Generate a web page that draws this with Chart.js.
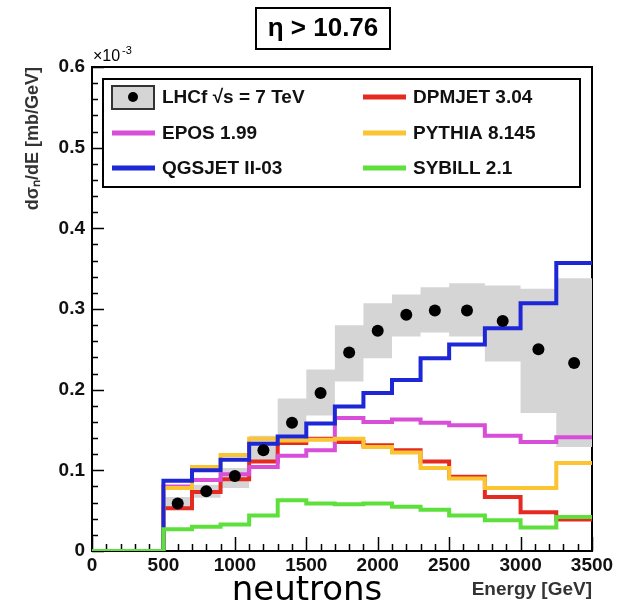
<!DOCTYPE html>
<html>
<head>
<meta charset="utf-8">
<script src="https://cdn.jsdelivr.net/npm/chart.js@4.4.0/dist/chart.umd.min.js"></script>
<style>
html, body { margin: 0; padding: 0; background: #fff; }
#wrap { width: 626px; height: 609px; }
</style>
</head>
<body>
<div id="wrap"><canvas id="chart" width="626" height="609"></canvas></div>
<script>
// energy bins (GeV), values in units of 1e-3 mb/GeV
const binEdges = [500, 700, 900, 1100, 1300, 1500, 1700, 1900, 2100, 2300, 2500, 2750, 3000, 3250, 3500];
const binCenters = [600, 800, 1000, 1200, 1400, 1600, 1800, 2000, 2200, 2400, 2625, 2875, 3125, 3375];

const lhcfData = [0.059, 0.074, 0.093, 0.125, 0.159, 0.196, 0.246, 0.273, 0.293, 0.298, 0.298, 0.285, 0.250, 0.233];
const lhcfLow  = [0.052, 0.066, 0.078, 0.112, 0.140, 0.168, 0.210, 0.239, 0.266, 0.271, 0.266, 0.235, 0.171, 0.129];
const lhcfHigh = [0.067, 0.082, 0.103, 0.143, 0.189, 0.225, 0.280, 0.307, 0.318, 0.327, 0.332, 0.329, 0.325, 0.338];

const dpmjet = [0.053, 0.073, 0.089, 0.111, 0.134, 0.139, 0.135, 0.131, 0.125, 0.111, 0.092, 0.067, 0.048, 0.039];
const epos   = [0.080, 0.088, 0.095, 0.104, 0.118, 0.125, 0.165, 0.160, 0.163, 0.159, 0.156, 0.143, 0.135, 0.141];
const pythia = [0.078, 0.104, 0.119, 0.139, 0.137, 0.138, 0.139, 0.129, 0.122, 0.103, 0.090, 0.078, 0.078, 0.109];
const qgsjet = [0.087, 0.100, 0.113, 0.133, 0.142, 0.158, 0.179, 0.196, 0.212, 0.239, 0.256, 0.276, 0.307, 0.357];
const sybill = [0.027, 0.030, 0.033, 0.044, 0.063, 0.059, 0.058, 0.059, 0.055, 0.051, 0.044, 0.038, 0.029, 0.042];

const xTicks = [0, 500, 1000, 1500, 2000, 2500, 3000, 3500];
const yTicks = [0, 0.1, 0.2, 0.3, 0.4, 0.5, 0.6];

const FONT = "'Liberation Sans', Arial, Helvetica, sans-serif";

// histogram outline: zero below 500 GeV, then one step per bin
function histPoints(vals, fromZero) {
    const pts = fromZero ? [{x: 0, y: 0}] : [];
    vals.forEach((v, i) => pts.push({x: binEdges[i], y: v}));
    pts.push({x: binEdges[binEdges.length - 1], y: vals[vals.length - 1]});
    return pts;
}

function histDataset(label, vals, color, order) {
    return {
        label: label,
        data: histPoints(vals, true),
        borderColor: color,
        backgroundColor: color,
        borderWidth: 4,
        stepped: true,
        pointRadius: 0,
        fill: false,
        order: order
    };
}

const decor = {
    id: 'decor',
    beforeDatasetsDraw(chart) {
        const ctx = chart.ctx, a = chart.chartArea;
        const xs = chart.scales.x, ys = chart.scales.y;
        ctx.save();
        ctx.strokeStyle = '#000';
        ctx.lineWidth = 2;
        ctx.strokeRect(a.left, a.top, a.right - a.left, a.bottom - a.top);
        ctx.lineWidth = 1.5;
        ctx.beginPath();
        for (let v = 0; v <= 0.6001; v += 0.02) {
            const y = Math.round(ys.getPixelForValue(v)) + 0.5;
            const major = Math.abs(v * 10 - Math.round(v * 10)) < 0.01;
            ctx.moveTo(a.left, y);
            ctx.lineTo(a.left + (major ? 12 : 6), y);
        }
        for (let v = 0; v <= 3500; v += 100) {
            const x = Math.round(xs.getPixelForValue(v)) + 0.5;
            ctx.moveTo(x, a.bottom);
            ctx.lineTo(x, a.bottom - (v % 500 === 0 ? 14 : 7));
        }
        ctx.stroke();
        ctx.restore();
    },
    afterDraw(chart) {
        const ctx = chart.ctx, a = chart.chartArea;
        ctx.save();

        // title box
        ctx.strokeStyle = '#000';
        ctx.lineWidth = 2;
        ctx.strokeRect(256, 8, 134, 41);
        ctx.fillStyle = '#000';
        ctx.font = 'bold 26px ' + FONT;
        ctx.textAlign = 'center';
        ctx.textBaseline = 'middle';
        ctx.fillText('η > 10.76', 323, 29);

        // exponent
        ctx.textAlign = 'left';
        ctx.textBaseline = 'alphabetic';
        ctx.font = '16px ' + FONT;
        ctx.fillText('×10', a.left + 1, 61);
        ctx.font = '11px ' + FONT;
        ctx.fillText('-3', a.left + 30, 54);

        // legend
        ctx.lineWidth = 2;
        ctx.strokeRect(103, 79, 477, 108);
        const ds = chart.data.datasets;
        const entries = [
            {ds: ds[2], col: 0, row: 0, data: true},
            {ds: ds[3], col: 1, row: 0},
            {ds: ds[4], col: 0, row: 1},
            {ds: ds[5], col: 1, row: 1},
            {ds: ds[6], col: 0, row: 2},
            {ds: ds[7], col: 1, row: 2}
        ];
        const colX = [112, 363], rowY = [97, 133, 168];
        ctx.font = 'bold 19px ' + FONT;
        ctx.textBaseline = 'middle';
        entries.forEach(e => {
            const x = colX[e.col], y = rowY[e.row];
            if (e.data) {
                ctx.fillStyle = ds[0].backgroundColor;
                ctx.fillRect(x, y - 11, 42, 23);
                ctx.strokeStyle = '#333';
                ctx.lineWidth = 2;
                ctx.strokeRect(x, y - 11, 42, 23);
                ctx.fillStyle = '#000';
                ctx.beginPath();
                ctx.arc(x + 21, y, 5, 0, Math.PI * 2);
                ctx.fill();
            } else {
                ctx.strokeStyle = e.ds.borderColor;
                ctx.lineWidth = 5;
                ctx.beginPath();
                ctx.moveTo(x, y);
                ctx.lineTo(x + 43, y);
                ctx.stroke();
            }
            ctx.fillStyle = '#111';
            ctx.fillText(e.ds.label, x + 50, y + 1);
        });

        // label under the axis
        ctx.font = "34px 'DejaVu Sans', sans-serif";
        ctx.textAlign = 'center';
        ctx.textBaseline = 'alphabetic';
        ctx.fillStyle = '#000';
        ctx.fillText('neutrons', 307, 600);
        ctx.restore();
    }
};

new Chart(document.getElementById('chart'), {
    type: 'line',
    data: {
        datasets: [
            {
                label: 'LHCf band high',
                data: histPoints(lhcfHigh, false),
                borderWidth: 0,
                borderColor: 'rgba(0,0,0,0)',
                backgroundColor: '#d5d5d5',
                stepped: true,
                pointRadius: 0,
                fill: 1,
                order: 20
            },
            {
                label: 'LHCf band low',
                data: histPoints(lhcfLow, false),
                borderWidth: 0,
                borderColor: 'rgba(0,0,0,0)',
                backgroundColor: '#d5d5d5',
                stepped: true,
                pointRadius: 0,
                fill: false,
                order: 21
            },
            {
                label: 'LHCf √s = 7 TeV',
                data: binCenters.map((x, i) => ({x: x, y: lhcfData[i]})),
                showLine: false,
                pointRadius: 6,
                pointBorderWidth: 0,
                pointBackgroundColor: '#000',
                borderColor: '#000',
                backgroundColor: '#000',
                order: 0
            },
            histDataset('DPMJET 3.04', dpmjet, '#e52a20', 6),
            histDataset('EPOS 1.99', epos, '#d94ed9', 5),
            histDataset('PYTHIA 8.145', pythia, '#fbc432', 4),
            histDataset('QGSJET II-03', qgsjet, '#1d27d6', 3),
            histDataset('SYBILL 2.1', sybill, '#5de03c', 2)
        ]
    },
    options: {
        responsive: false,
        animation: false,
        layout: {
            padding: {top: 67, right: 34, left: 0, bottom: 0}
        },
        plugins: {
            legend: {display: false},
            tooltip: {enabled: false}
        },
        scales: {
            x: {
                type: 'linear',
                min: 0,
                max: 3500,
                afterFit: s => { s.height = 58; },
                afterBuildTicks: s => { s.ticks = xTicks.map(v => ({value: v})); },
                grid: {display: false, drawTicks: false},
                border: {display: false},
                ticks: {
                    padding: 3,
                    maxRotation: 0,
                    autoSkip: false,
                    color: '#111',
                    font: {family: FONT, size: 19, weight: 'bold'},
                    callback: v => String(v)
                },
                title: {
                    display: true,
                    text: 'Energy [GeV]',
                    align: 'end',
                    color: '#333',
                    padding: {top: 0, bottom: 8},
                    font: {family: FONT, size: 19, weight: 'bold'}
                }
            },
            y: {
                min: 0,
                max: 0.6,
                afterFit: s => { s.width = 92; },
                afterBuildTicks: s => { s.ticks = yTicks.map(v => ({value: v})); },
                grid: {display: false, drawTicks: false},
                border: {display: false},
                ticks: {
                    padding: 7,
                    color: '#111',
                    font: {family: FONT, size: 19, weight: 'bold'},
                    callback: v => v === 0 ? '0' : v.toFixed(1)
                },
                title: {
                    display: true,
                    text: 'dσₙ/dE [mb/GeV]',
                    align: 'end',
                    color: '#333',
                    padding: {top: 22, bottom: 0},
                    font: {family: FONT, size: 18, weight: 'bold'}
                }
            }
        }
    },
    plugins: [decor]
});
</script>
</body>
</html>
